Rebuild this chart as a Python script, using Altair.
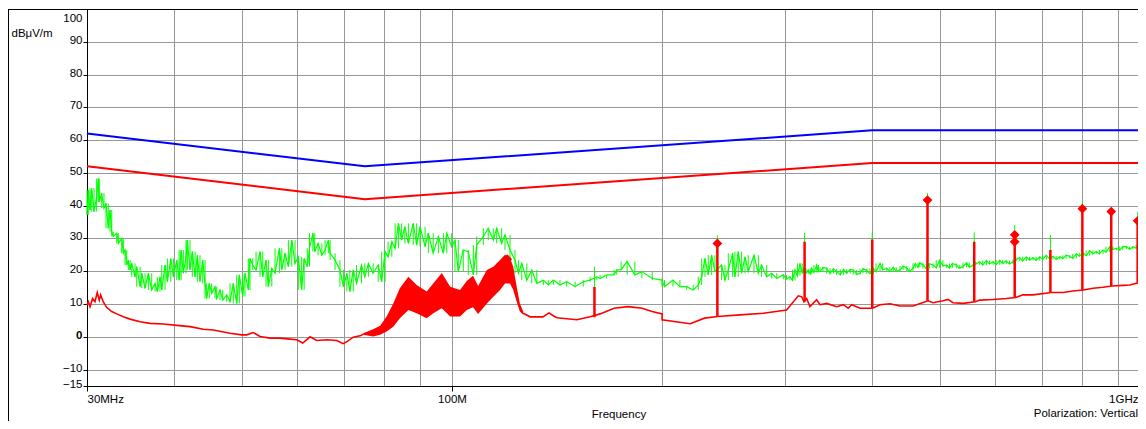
import altair as alt
import pandas as pd

FONT = "Liberation Sans"

# ---------------- axes ----------------
grid_f = [30, 40, 50, 60, 70, 80, 90, 100, 200, 300, 400, 500, 600, 700, 800, 900, 1000]
xlab_f = [30, 100, 1000]
xlab_t = ["30MHz", "100M", "1GHz"]
y_ticks = [-15, -10, 0, 10, 20, 30, 40, 50, 60, 70, 80, 90, 100]
x_title = "Frequency"
y_title = "dBμV/m"
note = "Polarization: Vertical"

# ---------------- limit lines ----------------
lim_f = [30, 75, 400, 1000]
lim_blue = [62, 52, 63, 63]
lim_red = [52, 42, 53, 53]

# ---------------- green (peak) trace ----------------
green_f = [30.0, 30.13, 30.3, 30.47, 30.7, 30.97, 31.14, 31.24, 31.49, 31.73, 31.94, 32.18, 32.36, 32.55, 32.72,
           33.09, 33.27, 33.64, 33.82, 34.01, 34.2, 34.38, 34.58, 34.77, 35.15, 35.35, 35.74, 35.94, 36.33, 36.73,
           37.14, 37.55, 37.83, 38.17, 38.39, 38.81, 39.11, 39.55, 39.89, 40.34, 40.65, 40.92, 41.22, 41.59, 41.77,
           42.14, 42.46, 42.85, 43.17, 43.55, 43.94, 44.28, 44.52, 44.9, 45.26, 45.76, 46.02, 46.52, 46.94, 47.56,
           48.08, 48.61, 49.16, 49.58, 50.14, 50.52, 51.08, 51.36, 51.82, 52.4, 53.09, 53.57, 54.15, 54.57, 55.19,
           55.79, 56.59, 57.04, 57.66, 58.29, 58.95, 59.59, 60.24, 60.9, 61.4, 62.05, 62.5, 63.2, 63.6, 64.3,
           65.1, 65.8, 66.5, 66.9, 68.0, 69.1, 69.9, 70.7, 71.4, 72.2, 73.0, 74.2, 75.0, 75.9, 77.1,
           78.4, 79.3, 80.2, 81.0, 82.0, 82.9, 83.8, 84.7, 85.6, 86.6, 88.0, 89.0, 90.0, 91.5, 92.5,
           94.0, 95.6, 97.2, 98.3, 99.9, 101.0, 102.1, 103.8, 105.5, 107.3, 108.5, 110.9, 112.7, 114.6, 115.9,
           117.8, 119.1, 121.1, 123.1, 124.5, 125.9, 128.0, 130.1, 132.3, 135.2, 137.4, 139.7, 142.8, 146.0, 150.1,
           154.2, 157.7, 161.2, 163.0, 166.6, 170.7, 172.2, 174.7, 178.2, 182.8, 187.1, 193.6, 199.9, 201.6, 207.3,
           212.1, 216.9, 221.6, 225.3, 227.9, 230.4, 232.9, 235.5, 238.1, 243.4, 246.1, 248.8, 252.4, 254.3, 257.1,
           260.0, 262.9, 265.7, 270.8, 274.7, 277.7, 282.4, 287.1, 291.9, 298.3, 301.5, 304.9, 307.5, 310.0, 312.5,
           315.2, 317.5, 319.4, 321.5, 323.9, 326.0, 327.6, 330.0, 333.0, 335.0, 336.7, 340.0, 344.2, 348.0, 352.0,
           355.7, 360.0, 364.0, 367.7, 372.0, 375.8, 380.0, 384.2, 388.0, 392.8, 397.0, 401.4, 405.0, 410.4, 414.0,
           419.6, 424.0, 428.8, 433.0, 438.4, 443.0, 448.2, 452.0, 457.6, 461.0, 465.2, 468.0, 472.9, 478.0, 483.0,
           488.8, 494.0, 499.7, 505.0, 510.7, 516.0, 521.0, 527.9, 533.0, 539.6, 546.0, 551.0, 557.8, 563.0, 570.2,
           576.0, 583.0, 589.0, 595.8, 602.0, 609.1, 615.0, 622.5, 629.0, 636.4, 643.0, 650.7, 657.0, 665.0, 672.0,
           679.9, 687.0, 695.0, 702.0, 710.3, 718.0, 726.2, 734.0, 742.4, 750.0, 758.0, 767.3, 775.0, 784.2, 792.0,
           801.7, 810.0, 819.7, 828.0, 837.7, 846.0, 856.4, 865.0, 875.6, 885.0, 894.9, 905.0, 914.0, 924.9, 935.0,
           945.5, 955.0, 966.7, 976.0, 986.9, 1000.0]
green_v = [37.2, 44.8, 38.7, 45.3, 38.2, 42.7, 48.3, 41.2, 43.8, 39.2, 40.7, 33.1, 38.7, 32.1, 30.6,
           31.6, 28.5, 30.0, 25.5, 26.5, 21.9, 23.4, 20.4, 22.4, 18.3, 21.4, 15.3, 19.4, 14.8, 19.4,
           14.3, 16.3, 13.8, 18.3, 14.3, 21.9, 16.8, 23.9, 18.3, 23.4, 17.3, 26.5, 19.4, 24.4, 29.5,
           20.4, 26.0, 18.3, 24.9, 16.8, 23.4, 16.3, 11.7, 16.3, 13.3, 15.3, 11.7, 14.3, 11.2, 12.8,
           10.7, 16.3, 10.2, 18.9, 12.3, 19.4, 14.3, 23.9, 21.9, 20.4, 26.0, 18.3, 23.4, 15.3, 20.9,
           19.4, 27.0, 20.4, 25.5, 21.4, 29.5, 22.4, 24.4, 14.3, 23.9, 21.4, 27.0, 31.6, 26.0, 28.5,
           24.9, 26.5, 29.5, 25.5, 23.4, 20.4, 15.3, 19.4, 13.8, 20.4, 16.3, 21.9, 18.3, 22.4, 19.4,
           21.9, 16.8, 26.0, 24.4, 29.0, 27.0, 34.6, 29.5, 33.6, 28.5, 34.6, 28.0, 33.6, 27.5, 31.6,
           25.5, 30.6, 25.5, 31.6, 27.5, 29.5, 19.9, 26.5, 26.0, 18.9, 28.0, 30.6, 33.1, 29.5, 33.1,
           28.5, 31.1, 26.5, 23.4, 19.4, 22.4, 17.3, 20.4, 16.3, 17.3, 15.8, 17.3, 15.8, 16.8, 15.3,
           16.8, 17.3, 18.3, 17.8, 18.9, 18.9, 20.4, 20.4, 23.0, 18.9, 19.9, 17.8, 17.3, 15.3, 17.3,
           15.3, 15.3, 14.3, 15.8, 18.3, 23.9, 18.9, 24.9, 19.9, 21.9, 17.3, 20.4, 25.5, 18.3, 26.0,
           19.4, 24.4, 19.9, 24.9, 19.4, 21.9, 18.3, 19.4, 17.8, 18.9, 17.6, 18.3, 17.2, 20.4, 18.6,
           22.4, 19.5, 20.9, 19.4, 20.4, 19.2, 20.9, 19.6, 21.9, 19.8, 19.9, 21.2, 20.9, 19.3, 20.8,
           19.9, 18.9, 20.6, 19.4, 20.6, 20.4, 19.0, 19.4, 20.8, 20.2, 19.2, 20.9, 19.8, 22.4, 20.4,
           20.9, 19.9, 21.2, 20.0, 20.4, 21.6, 20.9, 19.9, 20.9, 22.4, 21.2, 22.6, 21.9, 20.8, 22.3,
           21.9, 21.0, 23.4, 21.6, 21.9, 21.0, 22.4, 21.9, 20.9, 21.4, 22.6, 21.2, 21.9, 22.2, 22.9,
           21.9, 23.3, 22.2, 22.9, 22.0, 23.4, 22.3, 23.2, 22.2, 22.9, 23.6, 24.2, 23.1, 24.4, 23.4,
           24.2, 23.3, 24.4, 23.6, 24.9, 23.8, 24.6, 23.6, 24.4, 23.8, 24.9, 24.6, 23.9, 25.3, 24.6,
           25.6, 24.7, 26.3, 25.3, 26.0, 25.3, 26.5, 25.8, 27.5, 26.6, 27.0, 26.4, 27.6, 27.5, 26.7,
           27.5, 27.0, 28.0, 27.2, 28.0, 28.3]

# ---------------- red (average) trace ----------------
red_low_f = [30.0, 30.13, 30.3, 30.56, 30.8, 31.03, 31.24, 31.38, 31.65, 32.0, 32.55, 33.09, 33.82, 34.58, 35.74,
             36.92, 38.59, 40.34, 42.14, 44.03, 45.5, 48.08, 49.98, 50.81, 51.92, 53.09, 54.88, 56.72, 58.62,
             59.93, 61.13, 62.62, 64.0, 66.17, 68.36, 69.83, 70.83, 72.21, 73.82, 74.63]
red_low_v = [9.7, 10.7, 9.2, 11.7, 10.7, 13.5, 11.2, 12.8, 10.7, 9.0, 7.7, 7.0, 6.1, 5.4, 4.6,
             4.1, 3.9, 3.5, 3.1, 2.3, 2.1, 1.1, 0.6, 0.6, 1.3, 0.1, -0.4, -0.4, -0.7,
             -0.9, -1.9, 0.0, -1.1, -0.9, -1.1, -2.1, -1.4, -0.1, 0.3, 0.8]
red_high_f = [126.5, 129.4, 132.4, 135.0, 137.7, 139.5, 141.4, 146.1, 151.0, 157.7, 163.0, 170.7, 178.8, 187.2,
              193.5, 200.0, 200.0, 219.5, 230.0, 240.2, 258.6, 279.3, 301.6, 313.4, 317.0, 319.4, 322.2, 325.7,
              333.0, 336.7, 344.2, 355.7, 363.6, 369.6, 373.8, 384.2, 400.6, 410.4, 424.1, 438.4, 457.6, 480.8,
              488.8, 505.2, 513.6, 522.1, 539.6, 562.0, 570.2, 595.8, 622.5, 642.1, 657.8, 679.9, 722.1, 750.5,
              775.7, 802.5, 828.6, 856.4, 882.2, 914.8, 935.3, 963.5, 986.9, 1000.0]
red_high_v = [7.2, 6.1, 6.1, 6.1, 7.3, 6.5, 5.8, 5.5, 5.2, 6.1, 7.0, 8.7, 9.2, 8.7,
              7.7, 7.0, 5.2, 4.0, 5.7, 6.2, 6.7, 7.2, 8.2, 12.5, 12.2, 10.7, 11.7, 9.2,
              11.3, 9.8, 10.2, 9.2, 9.8, 8.7, 9.8, 8.7, 8.7, 9.8, 10.1, 9.4, 9.4, 11.0,
              10.4, 11.0, 11.4, 10.4, 10.2, 10.7, 11.2, 11.4, 11.7, 12.0, 12.8, 12.8, 13.5, 13.5,
              14.0, 14.3, 14.8, 15.1, 15.5, 15.7, 15.8, 16.5, 16.8, 17.0]

# dense broadband region of the red trace (lower / upper envelope)
band_f = [74.6, 77.1, 78.9, 80.6, 82.4, 84.2, 86.6, 89.0, 92.0, 94.0, 96.7, 99.4, 102.7, 105.0, 107.2,
          109.0, 112.2, 114.6, 117.2, 119.1, 121.1, 122.4, 123.8, 125.1, 126.5]
band_lo = [0.6, 0.1, 0.6, 1.6, 3.1, 5.7, 8.2, 7.2, 5.7, 7.2, 8.7, 6.2, 6.2, 8.2, 9.0,
           7.0, 10.2, 12.2, 14.3, 16.3, 16.3, 14.3, 10.7, 7.7, 6.7]
band_hi = [1.1, 2.3, 3.4, 6.2, 10.2, 14.8, 18.3, 15.8, 13.8, 16.3, 19.5, 15.3, 14.3, 17.0, 18.6,
           15.5, 20.4, 21.4, 23.4, 25.0, 24.0, 21.4, 15.3, 10.2, 7.7]

# ---------------- narrowband spikes ----------------
spike_f = [160, 240, 320, 400, 480, 560, 640, 720, 800, 880, 960]
spike_base = [6.0, 6.2, 10.7, 8.7, 11.0, 10.7, 12.0, 13.5, 14.3, 15.5, 16.5]
spike_red = [15.2, 28.5, 29.0, 29.7, 41.7, 29.0, 31.1, 26.5, 39.1, 38.2, 35.4]
spike_green = [21.4, 31.0, 31.8, 31.8, 43.8, 31.9, 34.1, 31.1, 41.2, 39.2, 38.0]

# measured points (diamonds)
mark_f = [120, 240, 480, 640, 640, 800, 880, 960]
mark_v = [23.7, 28.5, 41.7, 31.1, 29.0, 39.1, 38.2, 35.4]

# ---------------- tables ----------------
lim_df = pd.DataFrame({"f": lim_f * 2, "v": lim_blue + lim_red,
                       "s": ["blue"] * len(lim_f) + ["red"] * len(lim_f),
                       "i": list(range(len(lim_f))) * 2})
green_df = pd.DataFrame({"f": green_f, "v": green_v, "i": range(len(green_f))})
# vertical extent of the noisy peak trace at each read point (min / max of the neighbouring readings)
green_df["lo"] = green_df["v"].rolling(3, center=True, min_periods=1).min()
green_df["hi"] = green_df["v"].rolling(3, center=True, min_periods=1).max()
red_df = pd.DataFrame({"f": red_low_f + red_high_f, "v": red_low_v + red_high_v,
                       "seg": ["a"] * len(red_low_f) + ["b"] * len(red_high_f),
                       "i": range(len(red_low_f) + len(red_high_f))})
band_df = pd.DataFrame({"f": band_f, "v": band_lo, "v2": band_hi})
spike_df = pd.DataFrame({"f": spike_f, "v": spike_base, "vr": spike_red, "vg": spike_green})
mark_df = pd.DataFrame({"f": mark_f, "v": mark_v})

W, H = 1051, 377
XR = 1063  # pixel position of 1 GHz (the plot runs past the right edge of the page)

lab_expr = "".join(f"datum.value == {v} ? '{t}' : " for v, t in zip(xlab_f, xlab_t)) + "''"
tick_test = " || ".join(f"datum.value == {v}" for v in xlab_f)

xscale = alt.Scale(type="log", domain=[30, 1000], range=[0, XR], nice=False)
yscale = alt.Scale(domain=[-15, 100], nice=False, zero=False)

xaxis = alt.Axis(values=grid_f, labelExpr=lab_expr, labelFlush=True, labelOverlap=False,
                 labelFont=FONT, labelFontSize=11.5, labelColor="black", labelPadding=2,
                 labelOffset={"condition": {"test": "datum.value == 1000", "value": -12}, "value": 0},
                 tickSize=5, tickColor="black",
                 tickOpacity={"condition": {"test": tick_test, "value": 1}, "value": 0},
                 domainColor="black", grid=True, gridColor="#989898", gridWidth=1,
                 title=x_title, titleFont=FONT, titleFontSize=11.5, titleFontWeight="normal",
                 titleColor="black", titleY=31, titleBaseline="alphabetic")
yaxis = alt.Axis(values=y_ticks, labelFont=FONT, labelFontSize=11.5, labelColor="black",
                 labelBaseline="alphabetic",
                 labelOffset={"condition": {"test": "datum.value == 100", "value": 12.5}, "value": 1.5},
                 labelFontWeight={"condition": {"test": "datum.value == 0", "value": "bold"}, "value": "normal"},
                 labelPadding=1, tickSize=4, tickColor="black", domainColor="black",
                 grid=True, gridColor="#989898", gridWidth=1,
                 title=y_title, titleAngle=0, titleX=-76, titleY=27, titleAlign="left",
                 titleBaseline="alphabetic", titleFont=FONT, titleFontSize=11.5,
                 titleFontWeight="normal", titleColor="black")

X = alt.X("f:Q", scale=xscale, axis=xaxis)
Y = alt.Y("v:Q", scale=yscale, axis=yaxis)

limits = alt.Chart(lim_df).mark_line(strokeWidth=2).encode(
    x=X, y=Y, detail="s:N", order="i:Q",
    color=alt.Color("s:N", scale=alt.Scale(domain=["blue", "red"], range=["#0000ff", "#ff0000"]), legend=None))

green_fuzz = alt.Chart(green_df).mark_rule(color="#00ff00", strokeWidth=1).encode(
    x=X, y=alt.Y("lo:Q", scale=yscale, axis=yaxis), y2="hi:Q")
green = alt.Chart(green_df).mark_line(color="#00ff00", strokeWidth=1.2).encode(x=X, y=Y, order="i:Q")

band = alt.Chart(band_df).mark_area(color="#ff0000", opacity=1).encode(x=X, y=Y, y2="v2:Q")

red = alt.Chart(red_df).mark_line(color="#ff0000", strokeWidth=1.6).encode(
    x=X, y=Y, detail="seg:N", order="i:Q")

g_stem = alt.Chart(spike_df).mark_rule(color="#00ff00", strokeWidth=1).encode(x=X, y=Y, y2="vg:Q")
r_stem = alt.Chart(spike_df).mark_rule(color="#ff0000", strokeWidth=2.5).encode(x=X, y=Y, y2="vr:Q")

marks = alt.Chart(mark_df).mark_point(shape="diamond", filled=True, size=95, color="#ff0000",
                                      opacity=1).encode(x=X, y=Y)

one = pd.DataFrame({"t": [note]})
frame_top = alt.Chart(one).mark_rule(color="black", strokeWidth=1).encode(
    x=alt.value(-78.5), x2=alt.value(XR + 10), y=alt.value(0.5))
frame_left = alt.Chart(one).mark_rule(color="black", strokeWidth=1).encode(
    x=alt.value(-78.5), y=alt.value(0), y2=alt.value(H + 60))
note_txt = alt.Chart(one).mark_text(align="right", baseline="alphabetic", font=FONT, fontSize=11.5,
                                    color="black").encode(
    x=alt.value(W), y=alt.value(H + 31), text="t:N")

chart = alt.layer(limits, green_fuzz, green, band, red, g_stem, r_stem, marks,
                  frame_top, frame_left, note_txt).properties(
    width=W, height=H,
    padding={"left": 79, "top": 1, "right": 0, "bottom": 35},
    autosize=alt.AutoSizeParams(type="none"),
).configure_view(stroke=None).configure(font=FONT)

chart.save("out.html", embed_options={"renderer": "svg", "actions": False})
